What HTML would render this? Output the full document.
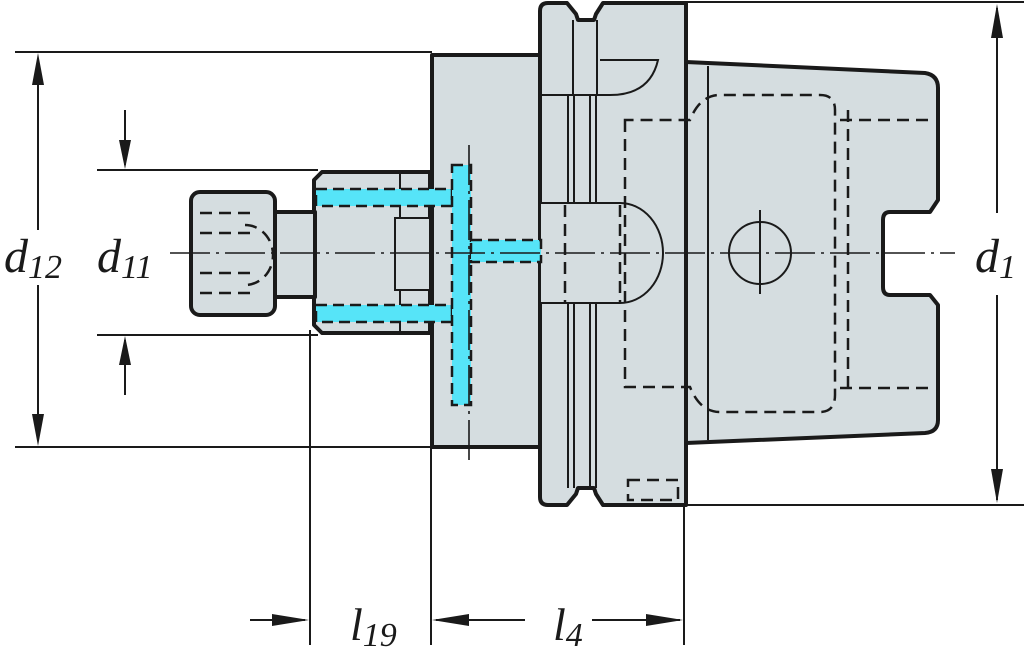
<!DOCTYPE html>
<html><head><meta charset="utf-8"><style>
html,body{margin:0;padding:0;background:#fff;width:1024px;height:665px;overflow:hidden}
svg{display:block}
text{font-family:"Liberation Serif",serif;font-style:italic;fill:#1a1a1a}
</style></head><body>
<svg width="1024" height="665" viewBox="0 0 1024 665" xmlns="http://www.w3.org/2000/svg">
<g stroke="#1a1a1a" fill="none" stroke-width="2">
<!-- extension lines -->
<line x1="15" y1="52" x2="432" y2="52"/>
<line x1="15" y1="447" x2="432" y2="447"/>
<line x1="97" y1="170" x2="318" y2="170"/>
<line x1="97" y1="335" x2="318" y2="335"/>
<line x1="686" y1="2" x2="1024" y2="2"/>
<line x1="686" y1="505" x2="1024" y2="505"/>
<line x1="310" y1="330" x2="310" y2="645"/>
<line x1="431" y1="447" x2="431" y2="645"/>
<line x1="684" y1="505" x2="684" y2="645"/>
<!-- dim lines -->
<line x1="38" y1="60" x2="38" y2="230"/>
<line x1="38" y1="285" x2="38" y2="440"/>
<line x1="125" y1="110" x2="125" y2="165"/>
<line x1="125" y1="340" x2="125" y2="395"/>
<line x1="997" y1="8" x2="997" y2="213"/>
<line x1="997" y1="295" x2="997" y2="500"/>
<line x1="250" y1="620" x2="305" y2="620"/>
<line x1="436" y1="620" x2="525" y2="620"/>
<line x1="592" y1="620" x2="680" y2="620"/>
</g>
<g fill="#1a1a1a">
<polygon points="38,53 32,85 44,85"/><polygon points="38,446 32,414 44,414"/>
<polygon points="125,169 119,140 131,140"/><polygon points="125,336 119,365 131,365"/>
<polygon points="997,4 991,38 1003,38"/><polygon points="997,503 991,469 1003,469"/>
<polygon points="309,620 272,614 272,626"/><polygon points="432,620 469,614 469,626"/>
<polygon points="683,620 646,614 646,626"/>
</g>
<g fill="#d5dde0" stroke="#1a1a1a" stroke-width="4" stroke-linejoin="round">
<!-- right taper -->
<path d="M686,62 L925,73 Q938,75 938,88 L938,200 L930,212 L890,212 Q883,212 883,220 L883,287 Q883,295 890,295 L930,295 L938,305 L938,420 Q938,432 925,433 L686,443 Z"/>
<!-- left body -->
<rect x="432" y="55" width="112" height="392"/>
<!-- collar -->
<path d="M548,3 L567,3 L576,14 L578,20 L594,20 L596,14 L603,3 L686,3 L686,505 L603,505 L596,494 L594,488 L578,488 L576,494 L567,505 L548,505 Q540,505 540,497 L540,11 Q540,3 548,3 Z"/>
<!-- sleeve -->
<path d="M322,172 L430,172 L430,333 L322,333 L314,325 L314,180 Z"/>
<!-- neck -->
<rect x="275" y="212" width="40" height="85"/>
<!-- head -->
<rect x="191" y="192" width="84" height="123" rx="9"/>
</g>
<g stroke="#1a1a1a" fill="none" stroke-width="2">
<line x1="708" y1="66" x2="708" y2="440"/>
<path d="M541,95 L610,95 Q650,95 658,60 L600,60"/>
<line x1="573" y1="20" x2="573" y2="95"/>
<line x1="597" y1="20" x2="597" y2="95"/>
<line x1="568" y1="95" x2="568" y2="488"/><line x1="574" y1="95" x2="574" y2="488"/>
<line x1="590" y1="95" x2="590" y2="488"/><line x1="596" y1="95" x2="596" y2="488"/>
<path d="M541,203 L620,203 A43,50 0 0 1 620,303 L541,303" fill="#d5dde0"/>
<rect x="395" y="218" width="35" height="72" fill="#d5dde0"/>
<circle cx="760" cy="253" r="31"/>
<line x1="760" y1="210" x2="760" y2="294"/>
<line x1="400" y1="172" x2="400" y2="218"/><line x1="400" y1="290" x2="400" y2="333"/>
</g>
<!-- dashed hidden lines -->
<g stroke="#1a1a1a" fill="none" stroke-width="2.5" stroke-dasharray="12,7">
<path d="M625,120 L625,387 L690,387 Q700,412 720,412 L820,412 Q835,412 835,395 L835,110 Q835,95 820,95 L720,95 Q700,95 690,120 Z"/>
<line x1="848" y1="110" x2="848" y2="395"/>
<line x1="840" y1="120" x2="935" y2="120"/>
<line x1="840" y1="388" x2="935" y2="388"/>
<line x1="565" y1="205" x2="565" y2="302"/>
<line x1="620" y1="205" x2="620" y2="302"/>
<rect x="628" y="480" width="50" height="20"/>
<line x1="200" y1="213" x2="250" y2="213"/><line x1="200" y1="233" x2="250" y2="233"/>
<line x1="200" y1="273" x2="250" y2="273"/><line x1="200" y1="293" x2="250" y2="293"/>
<path d="M245,225 A28,30 0 0 1 245,285"/>
</g>
<!-- cyan -->
<g fill="#56e4f8" stroke="#1a1a1a" stroke-width="2.5" stroke-dasharray="11,6">
<rect x="316" y="189" width="136" height="17"/>
<rect x="316" y="305" width="136" height="17"/>
<rect x="452" y="165" width="19" height="240"/>
<rect x="471" y="240" width="70" height="22"/>
</g>
<!-- centerlines -->
<g stroke="#1a1a1a" stroke-width="1.6" fill="none" stroke-dasharray="40,6,3,6">
<line x1="170" y1="253" x2="955" y2="253"/>
<line x1="469" y1="145" x2="469" y2="465"/>
</g>
<text x="4" y="272" font-size="48">d<tspan font-size="34" dy="6">12</tspan></text>
<text x="97" y="272" font-size="48">d<tspan font-size="34" dy="6">11</tspan></text>
<text x="975" y="272" font-size="48">d<tspan font-size="34" dy="6">1</tspan></text>
<text x="350" y="640" font-size="46">l<tspan font-size="34" dy="6">19</tspan></text>
<text x="553" y="640" font-size="46">l<tspan font-size="34" dy="6">4</tspan></text>
</svg>
</body></html>
